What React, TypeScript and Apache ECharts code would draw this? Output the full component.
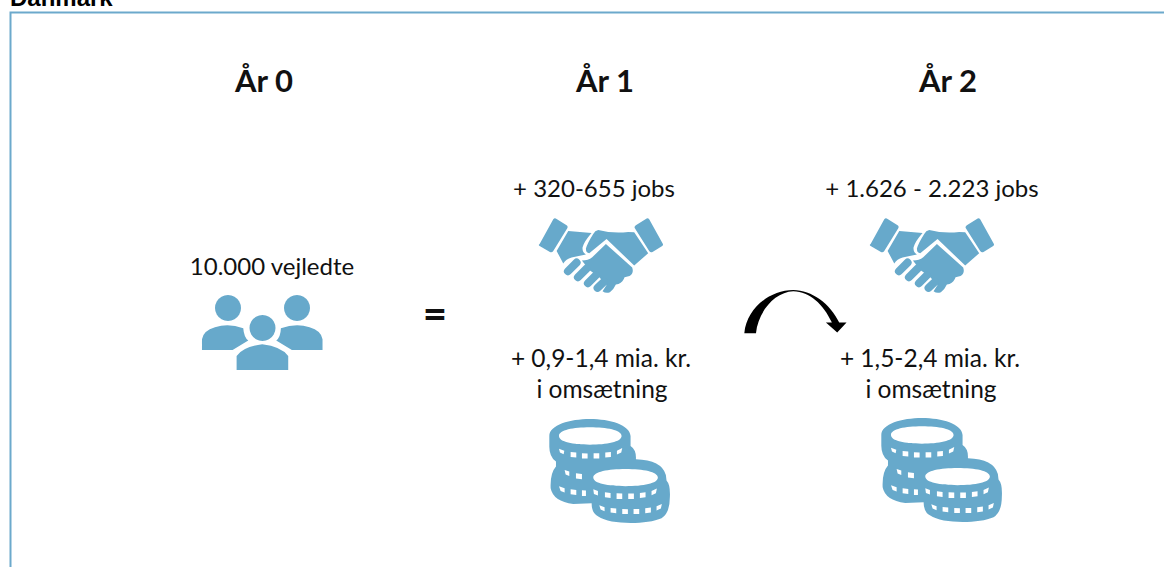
import React, { useEffect, useRef } from "react";
import * as echarts from "echarts";

const heading = "Danmark";
const yearLabels = ["År 0", "År 1", "År 2"];
const cohortLabel = "10.000 vejledte";
const jobLabels = ["+ 320-655 jobs", "+ 1.626 - 2.223 jobs"];
const revenueLabels = ["+ 0,9-1,4 mia. kr.", "+ 1,5-2,4 mia. kr."];
const revenueSuffix = "i omsætning";

const BLUE = "#67a9cb";
const INK = "#111111";
const FONT = "Lato";

const handshakeBody =
  "M119 222 L160 148 Q164 143 170 147 L200 166 Q205 170 202 175 L160 243 Q156 249 150 246 L119 228 Q114 225 119 222 Z " +
  "M405 175 Q402 170 408 166 L438 147 Q444 143 448 148 L488 220 Q492 226 486 229 L458 246 Q452 249 448 243 Z " +
  "M205 183 L275 189 Q252 215 248 232 Q246 246 258 254 Q236 258 215 263 Q198 268 190 281 L170 243 Z " +
  "M295 180 Q340 192 385 186 L403 187 L445 250 L403 287 L320 207 L268 250 Q258 250 258 236 Q262 220 280 192 Q285 182 295 180 Z " +
  "M318 222 L397 293 Q403 310 389 318 L374 322 Q370 336 356 342 L348 344 Q342 358 330 367 Q318 372 308 364 L320 345 L296 320 L268 300 L246 272 Q265 272 277 262 Z";
const handshakeFingers =
  "M204 304 L230 278 M234 322 L260 296 M264 340 L288 316 M293 354 L312 336";
const peoplePath =
  "M66 300 L66 268 Q70 242 105 232 Q145 218 190 235 Q192 262 205 272 L158 300 Z " +
  "M428 300 L428 268 Q424 242 389 232 Q349 218 303 235 Q302 262 289 272 L336 300 Z " +
  "M170 360 L170 318 Q190 290 247 283 Q304 290 325 318 L325 360 Z";
const coinBody =
  "M58 78 C58 45 120 27 180 27 C240 27 300 45 302 78 L302 108 Q320 120 318 148 Q395 150 408 195 L410 212 Q422 225 420 262 Q420 310 395 325 C350 345 240 345 205 320 Q185 310 185 280 L130 282 Q70 275 62 235 Q60 190 78 170 L78 155 Q58 140 58 110 Z";
const coinTops =
  "M87 78 C87 60 130 52 180 52 C230 52 275 60 275 78 C275 96 230 104 180 104 C130 104 87 96 87 78 Z " +
  "M190 203 C190 185 235 177 287 177 C340 177 384 185 384 203 C384 221 340 229 287 229 C235 229 190 221 190 203 Z";
const coinNotches =
  "M87 116 L103 122 L101 133 L90 128 Z M122 126 L139 128 L139 143 L122 141 Z M156 130 L173 131 L173 146 L156 146 Z " +
  "M191 130 L208 130 L208 146 L191 146 Z M226 128 L243 126 L243 141 L226 143 Z M261 122 L277 114 L274 128 L261 134 Z " +
  "M104 180 L118 185 L118 198 L107 194 Z M138 190 L156 192 L156 208 L138 206 Z " +
  "M87 229 L104 235 L104 248 L92 243 Z M122 238 L139 240 L139 255 L122 253 Z M156 241 L168 242 L168 258 L156 258 Z " +
  "M190 238 L204 243 L204 257 L192 252 Z M225 247 L242 249 L242 264 L225 262 Z M260 250 L277 251 L277 267 L260 267 Z " +
  "M295 251 L312 251 L312 267 L295 267 Z M330 249 L347 247 L347 262 L330 264 Z M365 243 L381 236 L378 250 L365 256 Z " +
  "M208 286 L224 292 L224 304 L212 299 Z M242 294 L259 296 L259 310 L242 308 Z M277 297 L294 298 L294 312 L277 312 Z " +
  "M311 297 L328 297 L328 312 L311 312 Z M346 295 L363 293 L363 308 L346 310 Z M380 289 L396 282 L393 296 L380 302 Z";
const arrowPath =
  "M43 160 C50 85 120 30 190 30 C245 30 302 72 328 128 L350 128 L322 158 L288 128 L306 128 C280 72 240 36 190 34 C135 36 84 95 78 160 Z";

const shapeNames = {
  handshakeBody,
  handshakeFingers,
  peoplePath,
  coinBody,
  coinTops,
  coinNotches,
  arrowPath,
};
Object.entries(shapeNames).forEach(([name, d]) => {
  echarts.graphic.registerShape(name, echarts.graphic.extendPath(d, {}));
});

const label = (text: string, x: number, y: number, size = 24, weight = "normal", family = FONT) => ({
  type: "text",
  x,
  y,
  style: {
    text,
    fill: INK,
    font: `${weight} ${size}px ${family}`,
    textAlign: "center",
    textVerticalAlign: "middle",
  },
});

const piece = (type: string, x: number, y: number, style: object) => ({
  type,
  x,
  y,
  scaleX: 1 / 3,
  scaleY: 1 / 3,
  style,
});

const handshake = (x: number, y: number) => [
  piece("handshakeBody", x, y, { fill: BLUE }),
  piece("handshakeFingers", x, y, { fill: "none", stroke: BLUE, lineWidth: 24, lineCap: "round" }),
];

const coins = (x: number, y: number) => [
  piece("coinBody", x, y, { fill: BLUE }),
  piece("coinTops", x, y, { fill: "#ffffff" }),
  piece("coinNotches", x, y, { fill: "#ffffff" }),
];

const elements = [
  { type: "rect", shape: { x: 10.5, y: 12.5, width: 1300, height: 700 }, style: { fill: "#ffffff", stroke: "#6ca9cc", lineWidth: 2 } },
  {
    type: "text",
    x: 10,
    y: 9,
    style: { text: heading, fill: "#000000", font: "bold 24px 'Liberation Sans'", textAlign: "left", textVerticalAlign: "bottom" },
  },
  label(yearLabels[0], 264, 80, 31, "bold"),
  label(yearLabels[1], 605, 80, 31, "bold"),
  label(yearLabels[2], 948, 80, 31, "bold"),
  label(cohortLabel, 272, 265),
  label("=", 435, 313, 42, "bold"),
  label(jobLabels[0], 594, 187),
  label(jobLabels[1], 932, 187),
  label(revenueLabels[0], 601, 357, 24.5),
  label(revenueSuffix, 602, 388, 24.5),
  label(revenueLabels[1], 930, 357, 24.5),
  label(revenueSuffix, 931, 388, 24.5),
  ...[
    [228, 308],
    [297, 308],
  ].map(([cx, cy]) => ({ type: "circle", shape: { cx, cy, r: 13 }, style: { fill: BLUE } })),
  piece("peoplePath", 180, 250, { fill: BLUE }),
  { type: "circle", shape: { cx: 262.5, cy: 328, r: 13 }, style: { fill: BLUE } },
  ...handshake(500, 170),
  ...handshake(831, 170),
  ...coins(530, 410),
  ...coins(862, 409),
  piece("arrowPath", 730, 280, { fill: "#000000" }),
];

export default function App() {
  const ref = useRef<HTMLDivElement>(null);
  useEffect(() => {
    document.body.style.margin = "0";
    const chart = echarts.init(ref.current!, undefined, { renderer: "svg" });
    chart.setOption({
      animation: false,
      backgroundColor: "#ffffff",
      graphic: { elements },
    });
    return () => chart.dispose();
  }, []);
  return <div ref={ref} style={{ width: 1164, height: 567 }} />;
}
